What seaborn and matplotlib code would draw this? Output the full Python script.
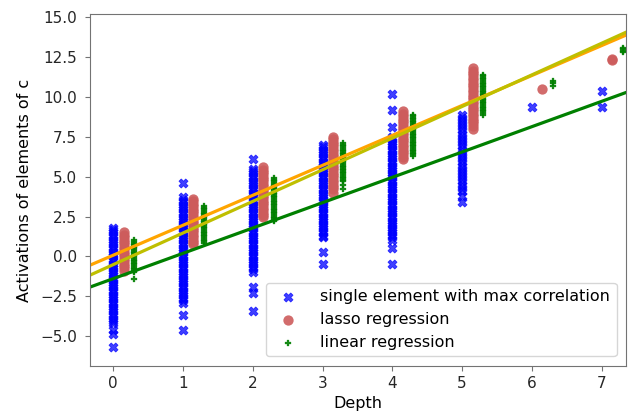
import numpy as np
import pandas as pd
import matplotlib
matplotlib.use("Agg")
import matplotlib.pyplot as plt
import seaborn as sns

# ---- data ----
depths = [0, 1, 2, 3, 4, 5, 6, 7]

single_d0 = [1.8, 1.65, 1.5, 1.35, 1.2, 1.05, 0.9, 0.75, 0.6, 0.45, 0.3, 0.15, 0.0, -0.15, -0.3,
             -0.45, -0.6, -0.75, -0.9, -1.05, -1.2, -1.35, -1.5, -1.65, -1.8, -1.95, -2.1, -2.25,
             -2.4, -2.55, -2.7, -2.85, -3.0, -3.15, -3.3, -3.45, -3.6, -3.75, -3.9, -4.05, -4.2,
             -4.65, -4.85, -5.7]
single_d1 = [4.6, 3.7, 3.55, 3.4, 3.25, 3.1, 2.95, 2.8, 2.65, 2.5, 2.35, 2.2, 2.05, 1.9, 1.75,
             1.6, 1.45, 1.3, 1.15, 1.0, 0.85, 0.7, 0.55, 0.4, 0.25, 0.1, -0.05, -0.2, -0.35,
             -0.5, -0.65, -0.8, -0.95, -1.1, -1.25, -1.4, -1.55, -1.7, -1.85, -2.0, -2.15, -2.3,
             -2.45, -2.6, -2.75, -2.9, -3.7, -4.6]
single_d2 = [6.1, 5.5, 5.35, 5.2, 5.05, 4.9, 4.75, 4.6, 4.45, 4.3, 4.15, 4.0, 3.85, 3.7, 3.55,
             3.4, 3.25, 3.1, 2.95, 2.8, 2.65, 2.5, 2.35, 2.2, 2.05, 1.9, 1.75, 1.6, 1.45, 1.3,
             1.15, 1.0, 0.85, 0.7, 0.55, 0.4, 0.25, 0.1, -0.05, -0.2, -0.35, -0.5, -0.65, -0.8,
             -1.0, -1.9, -2.3, -3.4]
single_d3 = [7.0, 6.85, 6.7, 6.55, 6.4, 6.25, 6.1, 5.95, 5.8, 5.65, 5.5, 5.35, 5.2, 5.05, 4.9,
             4.75, 4.6, 4.45, 4.3, 4.15, 4.0, 3.85, 3.7, 3.55, 3.4, 3.25, 3.1, 2.95, 2.8, 2.65,
             2.5, 2.35, 2.2, 2.05, 1.9, 1.75, 1.6, 1.45, 1.3, 1.2, 0.3, -0.5]
single_d4 = [10.2, 9.2, 8.1, 7.5, 7.35, 7.2, 7.05, 6.9, 6.75, 6.6, 6.45, 6.3, 6.15, 6.0, 5.85,
             5.7, 5.55, 5.4, 5.25, 5.1, 4.95, 4.8, 4.65, 4.5, 4.35, 4.2, 4.05, 3.9, 3.75, 3.6,
             3.45, 3.3, 3.15, 3.0, 2.85, 2.7, 2.55, 2.4, 2.25, 2.1, 1.95, 1.8, 1.65, 1.5, 1.35,
             1.2, 1.0, 0.5, -0.5]
single_d5 = [8.9, 8.7, 8.5, 8.3, 8.1, 7.9, 7.7, 7.5, 7.3, 7.1, 6.9, 6.7, 6.5, 6.3, 6.1, 5.9,
             5.7, 5.5, 5.3, 5.1, 4.9, 4.7, 4.5, 4.3, 4.1, 3.8, 3.4]
single_d6 = [9.4]
single_d7 = [9.4, 10.4]

lasso_d0 = [1.5, 1.35, 1.2, 1.05, 0.9, 0.75, 0.6, 0.45, 0.3, 0.15, 0.0, -0.15, -0.3, -0.45,
            -0.6, -0.75, -0.9]
lasso_d1 = [3.6, 3.45, 3.3, 3.15, 3.0, 2.85, 2.7, 2.55, 2.4, 2.25, 2.1, 1.95, 1.8, 1.65, 1.5,
            1.35, 1.2, 1.05, 0.9, 0.8]
lasso_d2 = [5.6, 5.45, 5.3, 5.15, 5.0, 4.85, 4.7, 4.55, 4.4, 4.25, 4.1, 3.95, 3.8, 3.65, 3.5,
            3.35, 3.2, 3.05, 2.9, 2.75, 2.6, 2.5]
lasso_d3 = [7.5, 7.35, 7.2, 7.05, 6.9, 6.75, 6.6, 6.45, 6.3, 6.15, 6.0, 5.85, 5.7, 5.55, 5.4,
            5.25, 5.1, 4.95, 4.8, 4.65, 4.5, 4.35, 4.2, 4.0]
lasso_d4 = [9.1, 8.95, 8.8, 8.65, 8.5, 8.35, 8.2, 8.05, 7.9, 7.75, 7.6, 7.45, 7.3, 7.15, 7.0,
            6.85, 6.7, 6.55, 6.4, 6.25, 6.1]
lasso_d5 = [11.8, 11.65, 11.5, 11.35, 11.2, 11.05, 10.9, 10.75, 10.6, 10.45, 10.3, 10.15,
            10.0, 9.85, 9.7, 9.55, 9.4, 9.25, 9.1, 8.95, 8.8, 8.65, 8.5, 8.35, 8.2, 8.0]
lasso_d6 = [10.5]
lasso_d7 = [12.3, 12.4]

linear_d0 = [1.0, 0.9, 0.8, 0.7, 0.6, 0.5, 0.4, 0.3, 0.2, 0.1, 0.0, -0.1, -0.2, -0.3, -0.4,
             -0.5, -0.6, -0.7, -0.8, -0.9, -1.0, -1.4]
linear_d1 = [3.15, 3.05, 2.95, 2.85, 2.75, 2.65, 2.55, 2.45, 2.35, 2.25, 2.15, 2.05, 1.95,
             1.85, 1.75, 1.65, 1.55, 1.45, 1.35, 1.25, 1.15, 1.05, 0.95, 0.85]
linear_d2 = [4.9, 4.8, 4.7, 4.6, 4.5, 4.4, 4.3, 4.2, 4.1, 4.0, 3.9, 3.8, 3.7, 3.6, 3.5, 3.4,
             3.3, 3.2, 3.1, 3.0, 2.9, 2.8, 2.7, 2.6, 2.5, 2.4, 2.3, 2.2]
linear_d3 = [7.1, 7.0, 6.9, 6.8, 6.7, 6.6, 6.5, 6.4, 6.3, 6.2, 6.1, 6.0, 5.9, 5.8, 5.7, 5.6,
             5.5, 5.4, 5.3, 5.2, 5.1, 5.0, 4.9, 4.8, 4.7, 4.5, 4.2]
linear_d4 = [8.9, 8.8, 8.7, 8.6, 8.5, 8.4, 8.3, 8.2, 8.1, 8.0, 7.9, 7.8, 7.7, 7.6, 7.5, 7.4,
             7.3, 7.2, 7.1, 7.0, 6.9, 6.8, 6.7, 6.6, 6.5, 6.4, 6.3]
linear_d5 = [11.4, 11.3, 11.2, 11.1, 11.0, 10.9, 10.8, 10.7, 10.6, 10.5, 10.4, 10.3, 10.2,
             10.1, 10.0, 9.9, 9.8, 9.7, 9.6, 9.5, 9.4, 9.3, 9.2, 9.1, 9.0, 8.9]
linear_d6 = [10.7, 10.85, 11.0]
linear_d7 = [12.8, 12.9, 13.0, 13.1]

# fitted trend lines: slope, intercept
fit_slopes = [1.88, 1.985, 1.59]
fit_intercepts = [0.07, -0.52, -1.40]

series_labels = ["single element with max correlation", "lasso regression", "linear regression"]
x_label = "Depth"
y_label = "Activations of elements of c"


def to_frame(cols):
    rows = []
    for d, vals in zip(depths, cols):
        for v in vals:
            rows.append((d, v))
    return pd.DataFrame(rows, columns=["depth", "value"])


single = to_frame([single_d0, single_d1, single_d2, single_d3, single_d4, single_d5, single_d6, single_d7])
lasso = to_frame([lasso_d0, lasso_d1, lasso_d2, lasso_d3, lasso_d4, lasso_d5, lasso_d6, lasso_d7])
linear = to_frame([linear_d0, linear_d1, linear_d2, linear_d3, linear_d4, linear_d5, linear_d6, linear_d7])

# ---- plotting ----
fig = plt.figure(figsize=(6.3, 4.15), dpi=100)
ax = fig.add_axes([0.143, 0.118, 0.851, 0.848])

sns.scatterplot(x=single["depth"], y=single["value"], ax=ax, marker="X", color="blue",
                s=42, linewidth=0.6, edgecolor="blue", alpha=0.75, label=series_labels[0])
sns.scatterplot(x=lasso["depth"] + 0.15, y=lasso["value"], ax=ax, marker="o", color="indianred",
                s=55, linewidth=0, alpha=0.9, label=series_labels[1])
sns.scatterplot(x=linear["depth"] + 0.3, y=linear["value"], ax=ax, marker="P", color="green",
                s=16, linewidth=0.2, edgecolor="green", alpha=0.9, label=series_labels[2])

line_colors = ["orange", "y", "green"]
for sl, ic, c in zip(fit_slopes, fit_intercepts, line_colors):
    ax.axline((0, ic), slope=sl, color=c, linewidth=2.3)

ax.set_xlim(-0.33, 7.35)
ax.set_ylim(-6.88, 15.2)
ax.set_yticks([-5.0, -2.5, 0.0, 2.5, 5.0, 7.5, 10.0, 12.5, 15.0])
ax.set_xticks(depths)
ax.set_xlabel(x_label, fontsize=11.5)
ax.set_ylabel(y_label, fontsize=11.5, labelpad=6)

for sp in ax.spines.values():
    sp.set_color("0.45")
ax.tick_params(color="0.45", labelcolor="0.15", labelsize=11)
ax.tick_params(axis="y", pad=6)

leg = ax.legend(loc="lower right", fontsize=11.5, framealpha=0.8, handletextpad=1.0,
                borderaxespad=0.6)

fig.savefig("out.png", dpi=100)
